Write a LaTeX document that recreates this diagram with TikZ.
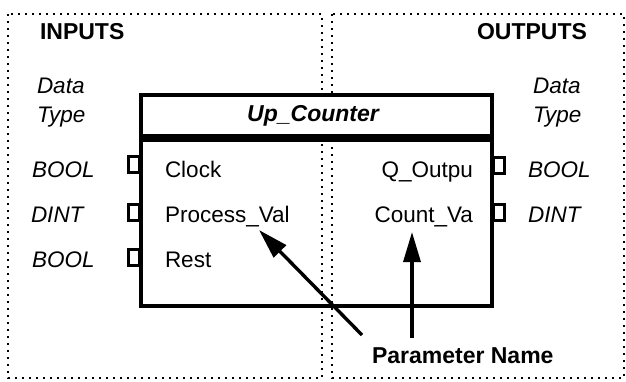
\documentclass[tikz,border=0pt]{standalone}
\usepackage{fontspec}
\setmainfont{Liberation Sans}
\usetikzlibrary{arrows.meta}
\begin{document}
\begin{tikzpicture}[x=1pt,y=-1pt,
  every node/.style={inner sep=0pt,outer sep=0pt,font=\fontsize{22.5}{26}\selectfont},
  zone/.style={line width=2pt,dash pattern=on 2pt off 5pt},
  blockline/.style={line width=3.2pt},
  pin/.style={draw,line width=3pt,minimum width=11pt,minimum height=16pt},
  it/.style={font=\fontsize{22.5}{26}\selectfont\itshape},
  bf/.style={font=\fontsize{23}{26}\selectfont\bfseries},
  pointer/.style={line width=3.4pt,-{Triangle[length=30pt,width=17pt]}}]
\useasboundingbox (0,0) rectangle (626,381);
% input and output zones
\draw[zone] (8,14) rectangle (322,378);
\draw[zone] (332,14) rectangle (624,378);
% function block
\draw[blockline,fill=white] (141,95) rectangle (492,136);
\draw[blockline] (141,140) rectangle (492,306);
\node[font=\fontsize{23}{26}\selectfont\bfseries\itshape,anchor=base] (title) at (313,121) {Up\_Counter};
% zone headings
\node[bf,anchor=base west] (inputs) at (40,39) {INPUTS};
\node[bf,anchor=base west] (outputs) at (477,39) {OUTPUTS};
% data type headings
\node[it,anchor=base west] (ldata) at (37,93) {Data};
\node[it,anchor=base west] (ltype) at (37,122) {Type};
\node[it,anchor=base west] (rdata) at (533,93) {Data};
\node[it,anchor=base west] (rtype) at (533,122) {Type};
% input rows
\node[it,anchor=base west] (lt1) at (32,177) {BOOL};
\node[it,anchor=base west] (lt2) at (31,222) {DINT};
\node[it,anchor=base west] (lt3) at (32,267) {BOOL};
\node[pin] (lp1) at (134,164.5) {};
\node[pin] (lp2) at (134,212) {};
\node[pin] (lp3) at (134,257.5) {};
\node[anchor=base west] (in1) at (165,177) {Clock};
\node[anchor=base west] (in2) at (165,222) {Process\_Val};
\node[anchor=base west] (in3) at (165,267) {Rest};
% output rows
\node[pin] (rp1) at (499,165) {};
\node[pin] (rp2) at (499,212) {};
\node[anchor=base east] (out1) at (473,177) {Q\_Outpu};
\node[anchor=base east] (out2) at (473,222) {Count\_Va};
\node[it,anchor=base west] (rt1) at (528,177) {BOOL};
\node[it,anchor=base west] (rt2) at (528,222) {DINT};
% parameter name callout
\node[bf,anchor=base west] (param) at (372,363) {Parameter Name};
\coordinate (a1s) at (362,335);
\coordinate (a1e) at (259,230);
\coordinate (a2s) at (412,338);
\coordinate (a2e) at (412,232);
\draw[pointer] (a1s) -- (a1e);
\draw[pointer] (a2s) -- (a2e);
\end{tikzpicture}
\end{document}
